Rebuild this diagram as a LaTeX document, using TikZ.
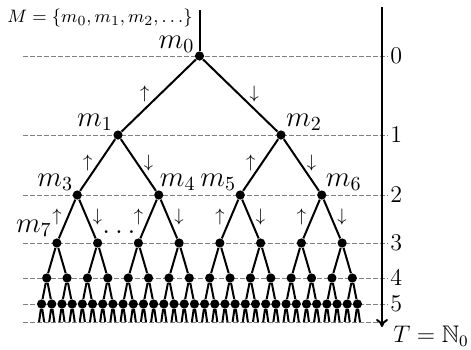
\documentclass[tikz,border=0pt]{standalone}
\usepackage{amssymb}
\usetikzlibrary{positioning,arrows.meta,calc}

\begin{document}
\begin{tikzpicture}[
  x=0.5pt, y=-0.5pt,
  dot/.style={circle, fill=black, inner sep=0pt, minimum size=4.6pt},
  edge/.style={line width=1pt},
  lvl/.style={draw=black!50, line width=0.5pt, dash pattern=on 2.4pt off 1.1pt},
  mlbl/.style={font=\Large, inner sep=0pt},
  num/.style={font=\large, inner sep=1pt, anchor=west},
  dir/.style={font=\small, inner sep=0pt},
  axis/.style={line width=1pt, -{To[length=4pt,width=6pt]}},
]
  \useasboundingbox (0,0) rectangle (471,349);
  % levels and time axis
  \foreach \l/\yy in {0/56,1/135,2/195,3/243,4/278,5/304}{
    \coordinate (d\l) at (23,\yy);
    \node[num] (t\l) at (388,\yy) {$\l$};
    \draw[lvl] (d\l) -- (t\l.west);
  }
  \coordinate (d6) at (23,322);
  \coordinate (e6) at (380,322);
  \draw[lvl] (d6) -- (e6);
  \coordinate (ax0) at (382,7);
  \coordinate (ax1) at (382,327);
  \draw[axis] (ax0) -- (ax1);
  % tree nodes
  \foreach \l/\yy in {0/56,1/135,2/195,3/243,4/278,5/304}{
    \pgfmathtruncatemacro\last{2^\l-1}
    \foreach \i in {0,...,\last}
      \node[dot] (n\l-\i) at ({36.5+163/2^\l*(2*\i+1)},\yy) {};
  }
  \coordinate (stem) at (199.5,10);
  \draw[edge] (stem) -- (n0-0);
  % edges with directions
  \foreach \l/\off in {0/7pt,1/5pt,2/5pt}{
    \pgfmathtruncatemacro\nxt{\l+1}
    \pgfmathtruncatemacro\last{2^\l-1}
    \foreach \i in {0,...,\last}{
      \pgfmathtruncatemacro\a{2*\i}
      \pgfmathtruncatemacro\b{2*\i+1}
      \draw[edge] (n\l-\i) -- node[dir, xshift=-\off, yshift=1pt] (up\l-\i) {$\uparrow$} (n\nxt-\a);
      \draw[edge] (n\l-\i) -- node[dir, xshift=\off, yshift=1pt] (dn\l-\i) {$\downarrow$} (n\nxt-\b);
    }
  }
  \foreach \l in {3,4}{
    \pgfmathtruncatemacro\nxt{\l+1}
    \pgfmathtruncatemacro\last{2^\l-1}
    \foreach \i in {0,...,\last}{
      \pgfmathtruncatemacro\a{2*\i}
      \pgfmathtruncatemacro\b{2*\i+1}
      \draw[edge] (n\nxt-\a) -- (n\l-\i) -- (n\nxt-\b);
    }
  }
  \foreach \i in {0,...,31}{
    \pgfmathtruncatemacro\a{2*\i}
    \pgfmathtruncatemacro\b{2*\i+1}
    \coordinate (lf-\a) at ({36.5+163/64*(2*\a+1)},322);
    \coordinate (lf-\b) at ({36.5+163/64*(2*\b+1)},322);
    \draw[edge] (lf-\a) -- (n5-\i) -- (lf-\b);
  }
  % labels
  \node[mlbl] (lm0) at ($(n0-0)+(-23,-12)$) {$m_0$};
  \node[mlbl] (lm1) at ($(n1-0)+(-23,-13)$) {$m_1$};
  \node[mlbl] (lm2) at ($(n1-1)+(23,-13)$) {$m_2$};
  \node[mlbl] (lm3) at ($(n2-0)+(-22,-13)$) {$m_3$};
  \node[mlbl] (lm4) at ($(n2-1)+(19,-13)$) {$m_4$};
  \node[mlbl] (lm5) at ($(n2-2)+(-22,-13)$) {$m_5$};
  \node[mlbl] (lm6) at ($(n2-3)+(22,-13)$) {$m_6$};
  \node[mlbl] (lm7) at ($(n3-0)+(-23,-15)$) {$m_7$};
  \node[font=\Large] (dots) at ($(n3-1)!0.5!(n3-2)+(1,-10.5)$) {$\ldots$};
  \node[font=\fontsize{9.4pt}{11pt}\selectfont] (set) at (100,18) {$M=\{m_0,m_1,m_2,\ldots\}$};
  \node[font=\large] (tset) at (431,336) {$T=\mathbb{N}_0$};
\end{tikzpicture}
\end{document}
